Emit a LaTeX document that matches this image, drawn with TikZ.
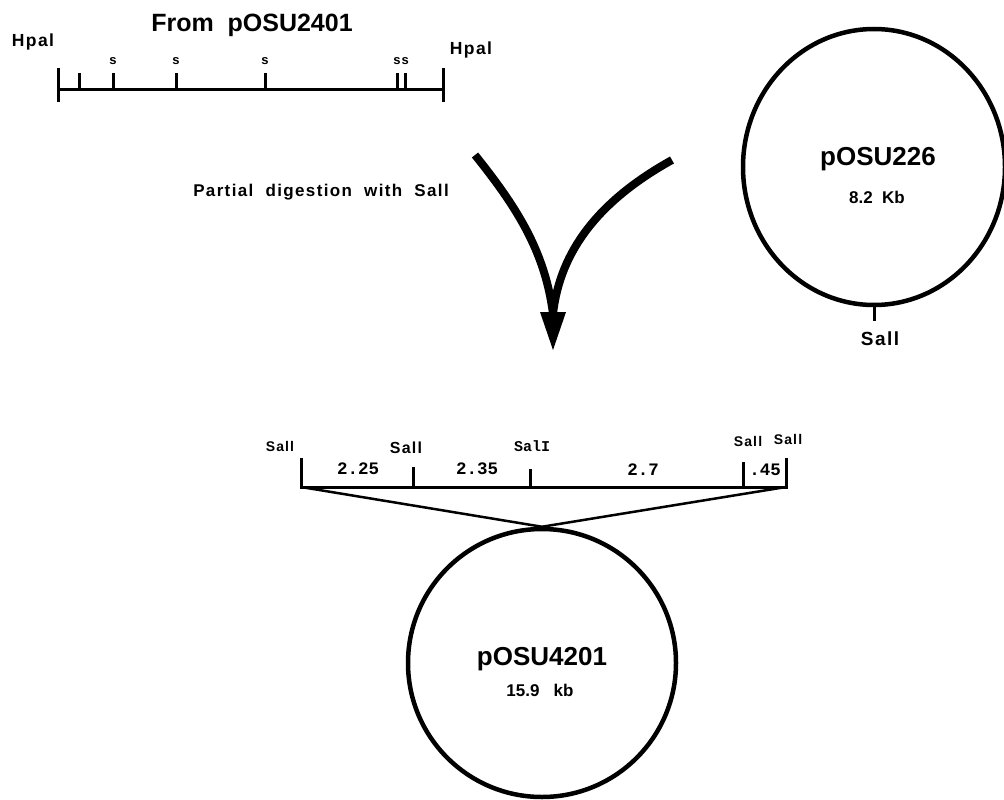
\documentclass[tikz,border=0pt]{standalone}
\usepackage{fontspec}
\setmainfont{Liberation Sans}
\newfontfamily\labfont[LetterSpace=8]{Liberation Sans}
\newfontfamily\monofont{Liberation Mono}
\usetikzlibrary{shapes.geometric}
\newcommand\fsz[1]{\fontsize{#1}{#1}\selectfont}
\tikzset{
  lbl/.style={inner sep=0pt, anchor=base, font=\bfseries\labfont\fsz{#1}},
  big/.style={inner sep=0pt, anchor=base, font=\bfseries\fsz{#1}},
  mlbl/.style={inner sep=0pt, anchor=base, font=\bfseries\monofont\fsz{#1}},
  mapline/.style={line width=3pt},
  tick/.style={line width=3pt},
  plasmid/.style={draw, line width=4.5pt, inner sep=0pt},
  bigarrow/.style={line width=8pt},
  crossline/.style={line width=2.5pt}
}
\begin{document}
\begin{tikzpicture}[x=1pt,y=-1pt]
\useasboundingbox (0,0) rectangle (1004,800);

% ---------- top map (from pOSU2401) ----------
\node[big=25] (title) at (252,32) {From\ \ pOSU2401};
\node[lbl=17.5] (hl) at (33,47) {Hpal};
\node[lbl=17.5] (hr) at (471,55) {Hpal};
\coordinate (tL) at (58,89);
\coordinate (tR) at (443,89);
\draw[mapline] (tL) -- (tR);
\draw[tick] (58,68) -- (58,102);
\draw[tick] (443,68) -- (443,102);
\foreach \x in {79,113,176,265,397,405} \draw[tick] (\x,73) -- (\x,89);
\node[lbl=13] (s1) at (113,65) {s};
\node[lbl=13] (s2) at (176,65) {s};
\node[lbl=13] (s3) at (265,65) {s};
\node[lbl=13] (s45) at (401,65) {ss};

% ---------- label and arrow ----------
\node[lbl=17] (pd) at (321,196) {Partial\ \ digestion\ \ with\ \ Sall};
\coordinate (aL) at (475,155);
\coordinate (aR) at (672,160);
\coordinate (aM) at (553,314);
\coordinate (tipL) at (540,312);
\coordinate (tipR) at (566,312);
\coordinate (tip) at (553,350);
\draw[bigarrow] (aL) .. controls (515,205) and (545,250) .. (aM);
\draw[bigarrow] (aR) .. controls (600,200) and (560,250) .. (aM);
\fill (tipL) -- (tipR) -- (tip) -- cycle;

% ---------- pOSU226 ----------
\node[plasmid, ellipse, minimum width=262pt, minimum height=276pt] (p226) at (874,167) {};
\node[big=26] (n226) at (878,165) {pOSU226};
\node[big=17] (k226) at (877,203) {8.2\ \ Kb};
\coordinate (s226) at (874,321);
\draw[tick] (p226.south) -- (s226);
\node[lbl=19] (sal226) at (880,345) {Sall};

% ---------- bottom map ----------
\coordinate (mL) at (301,487);
\coordinate (mR) at (786,487);
\draw[mapline] (mL) -- (mR);
\draw[tick] (301,458) -- (301,488.5);
\draw[tick] (786,458) -- (786,488.5);
\draw[tick] (413,467) -- (413,487);
\draw[tick] (530,469) -- (530,487);
\draw[tick] (743,462) -- (743,487);
\node[lbl=14] (b1) at (280,451) {Sall};
\node[lbl=16] (b2) at (406,453) {Sall};
\node[mlbl=15] (b3) at (532,451) {SalI};
\node[lbl=14] (b4) at (748,446) {Sall};
\node[lbl=14] (b5) at (788,444) {Sall};
\node[mlbl=17.5] (d1) at (358,474) {2.25};
\node[mlbl=17.5] (d2) at (477,474) {2.35};
\node[mlbl=17.5] (d3) at (643,475) {2.7};
\node[mlbl=17.5] (d4) at (765,475) {.45};

% ---------- pOSU4201 ----------
\node[plasmid, circle, minimum size=268pt] (p4201) at (542,663) {};
\draw[crossline] (mL) -- (p4201.north);
\draw[crossline] (mR) -- (p4201.north);
\node[big=26] (n4201) at (542,665) {pOSU4201};
\node[big=17] (k4201) at (540,696) {15.9\ \ \ kb};
\end{tikzpicture}
\end{document}
